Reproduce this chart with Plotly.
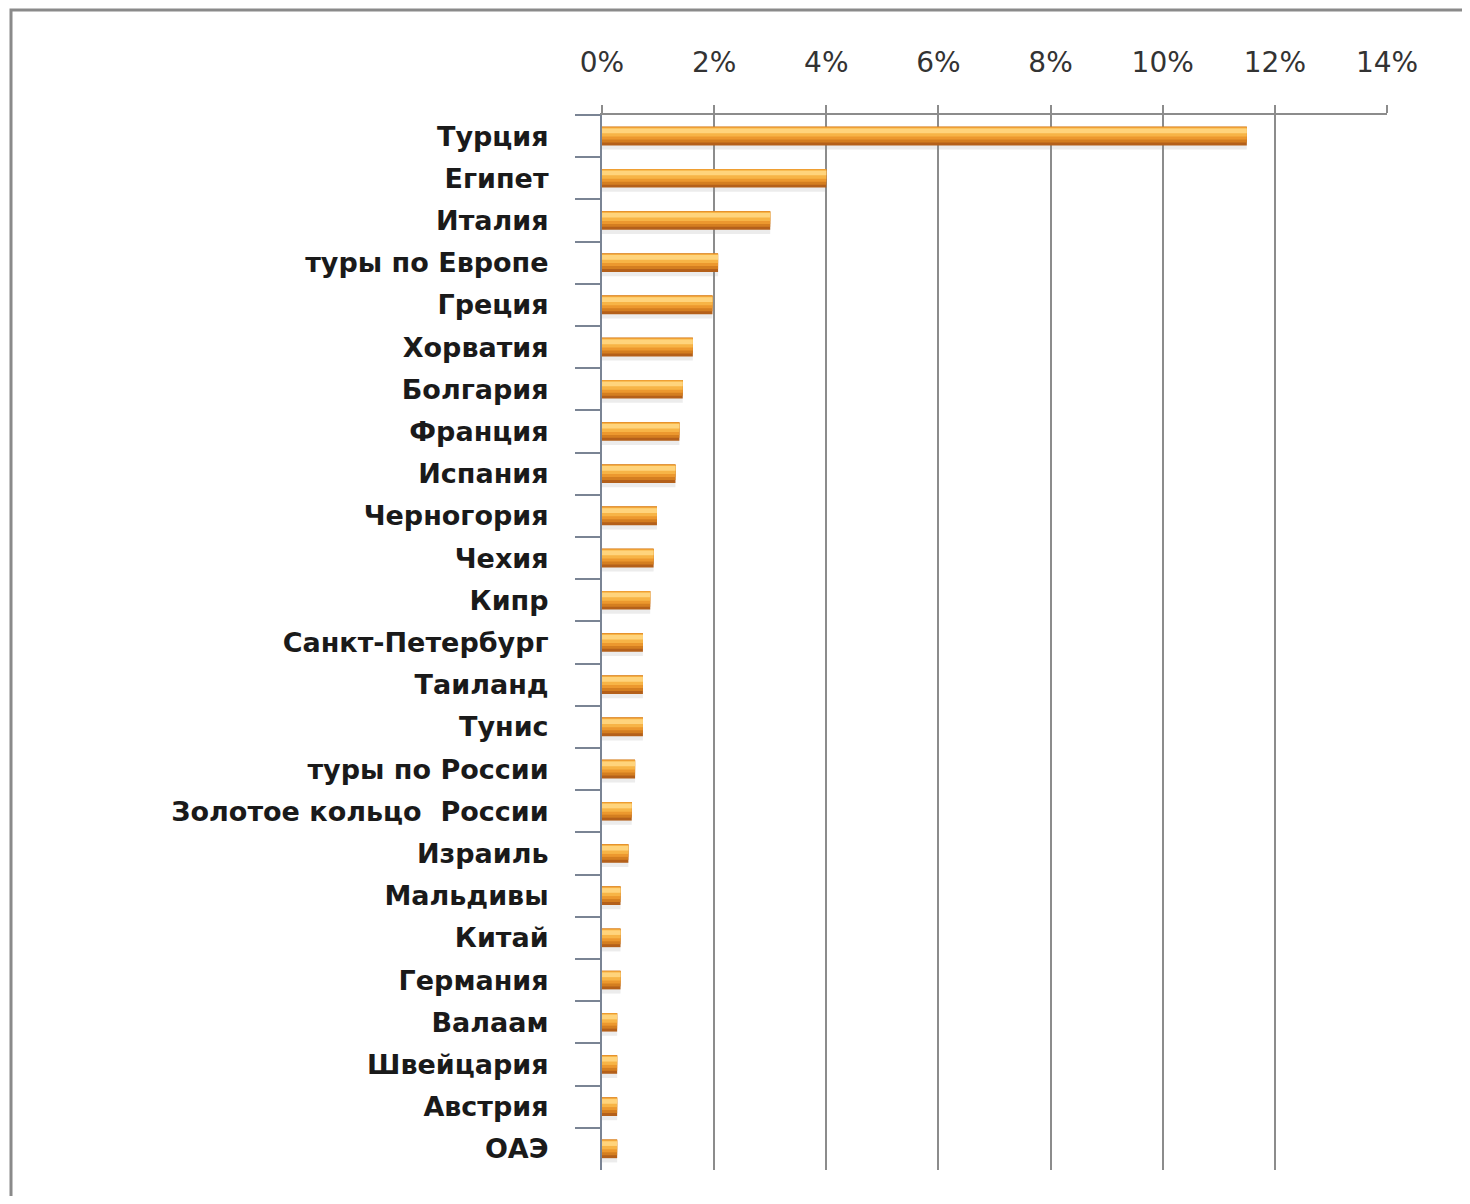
import plotly.graph_objects as go

categories = ["Турция", "Египет", "Италия", "туры по Европе", "Греция", "Хорватия",
              "Болгария", "Франция", "Испания", "Черногория", "Чехия", "Кипр",
              "Санкт-Петербург", "Таиланд", "Тунис", "туры по России",
              "Золотое кольцо  России", "Израиль", "Мальдивы", "Китай", "Германия",
              "Валаам", "Швейцария", "Австрия", "ОАЭ"]
values = [0.115, 0.040, 0.030, 0.0207, 0.0197, 0.0162, 0.0144, 0.0138, 0.0131,
          0.0098, 0.0092, 0.0086, 0.0073, 0.0073, 0.0073, 0.0059, 0.0053, 0.0047,
          0.0033, 0.0033, 0.0033, 0.0027, 0.0027, 0.0027, 0.0027]
tick_vals = [0, 0.02, 0.04, 0.06, 0.08, 0.10, 0.12, 0.14]
tick_text = ["0%", "2%", "4%", "6%", "8%", "10%", "12%", "14%"]

fig = go.Figure()
# soft shadow below the bars
fig.add_trace(go.Bar(
    x=values, y=categories, orientation="h",
    marker=dict(color="rgba(150,150,150,0.18)", line=dict(width=0)),
    offset=-0.12, width=0.44, hoverinfo="skip", showlegend=False,
))
# nested layers to imitate a shaded cylinder (dark bottom, light upper band)
layers = [
    ("#B4601A", -0.22, 0.44),
    ("#D47E20", -0.22, 0.37),
    ("#EC982E", -0.22, 0.30),
    ("#F7B446", -0.20, 0.21),
    ("#FFD47C", -0.18, 0.11),
]
for color, off, w in layers:
    fig.add_trace(go.Bar(
        x=values, y=categories, orientation="h",
        marker=dict(color=color, line=dict(width=0)),
        offset=off, width=w, hoverinfo="skip", showlegend=False,
    ))

W, H = 1454, 1188
ml, mr, mt, mb = 594, 75, 107, 26
pw, ph = W - ml - mr, H - mt - mb

fig.update_layout(
    width=W, height=H, barmode="overlay",
    margin=dict(l=ml, r=mr, t=mt, b=mb, autoexpand=False),
    paper_bgcolor="white", plot_bgcolor="white",
    xaxis=dict(
        side="top", range=[0, 0.14], tickvals=tick_vals, ticktext=tick_text,
        showgrid=True, gridcolor="#8c8c8c", gridwidth=2,
        showline=True, linecolor="#8c8c8c", linewidth=2,
        ticks="outside", ticklen=8, tickcolor="#8c8c8c", tickwidth=2,
        ticklabelstandoff=22, zeroline=False,
        tickfont=dict(family="DejaVu Sans", size=28, color="#333333"),
    ),
    yaxis=dict(
        type="category", autorange="reversed", tickson="boundaries",
        showline=True, linecolor="#7a8494", linewidth=2,
        ticks="outside", ticklen=25, tickcolor="#7a8494", tickwidth=2,
        ticklabelstandoff=46, showgrid=False,
        tickfont=dict(family="DejaVu Sans", size=27, color="#1a1a1a", weight="bold"),
    ),
    shapes=[dict(
        type="rect", xref="paper", yref="paper",
        x0=(3 - ml) / pw, x1=(W + 20 - ml) / pw,
        y0=(H - mb - (H + 20)) / ph, y1=(H - mb - 2) / ph,
        line=dict(color="#8a8a8a", width=3), fillcolor="rgba(0,0,0,0)", layer="below",
    )],
)

fig.write_html("out.html")
